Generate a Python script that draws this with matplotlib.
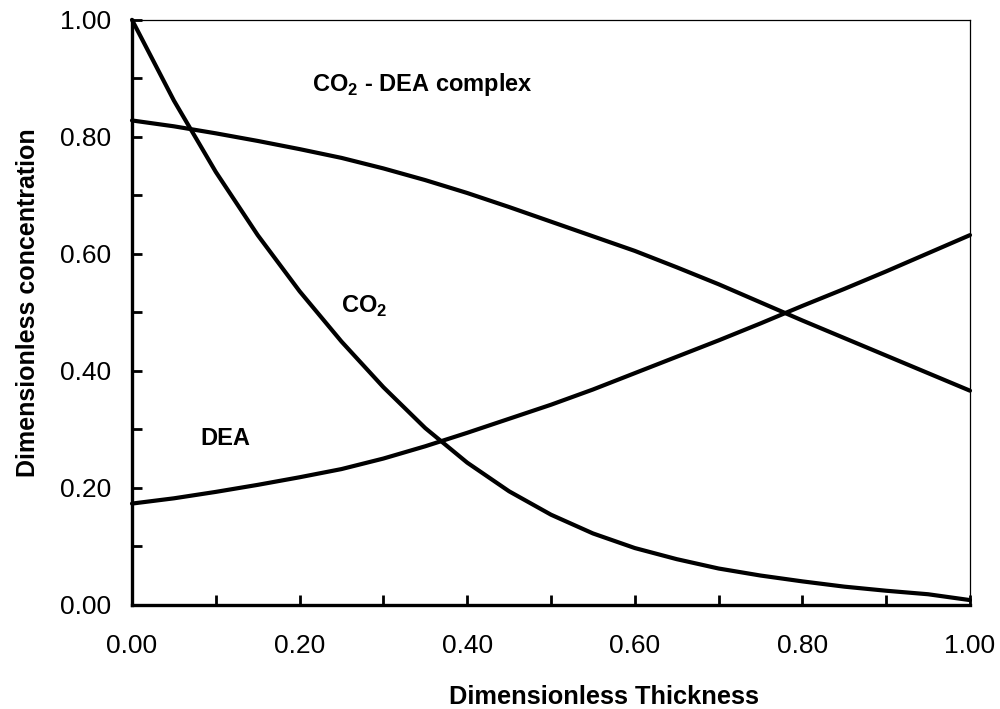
import matplotlib
matplotlib.use('Agg')
import matplotlib.pyplot as plt
from matplotlib.ticker import MultipleLocator, FormatStrFormatter

plt.rcParams['font.family'] = ['Liberation Sans', 'DejaVu Sans']
plt.rcParams['mathtext.fontset'] = 'custom'
plt.rcParams['mathtext.rm'] = 'Liberation Sans'
plt.rcParams['mathtext.bf'] = 'Liberation Sans:bold'

# dimensionless thickness
thickness = [0.00, 0.05, 0.10, 0.15, 0.20, 0.25, 0.30, 0.35, 0.40, 0.45, 0.50,
             0.55, 0.60, 0.65, 0.70, 0.75, 0.80, 0.85, 0.90, 0.95, 1.00]

# concentration profiles
co2 = [1.000, 0.862, 0.740, 0.632, 0.536, 0.450, 0.372, 0.302, 0.243, 0.194, 0.154,
       0.122, 0.097, 0.078, 0.062, 0.050, 0.040, 0.031, 0.024, 0.018, 0.008]
complex_ = [0.828, 0.818, 0.806, 0.793, 0.779, 0.764, 0.746, 0.726, 0.704, 0.680, 0.655,
            0.630, 0.605, 0.577, 0.548, 0.517, 0.486, 0.456, 0.426, 0.396, 0.366]
dea = [0.173, 0.182, 0.193, 0.205, 0.218, 0.232, 0.250, 0.271, 0.294, 0.318, 0.342,
       0.368, 0.396, 0.424, 0.452, 0.481, 0.511, 0.540, 0.570, 0.601, 0.632]

fig = plt.figure(figsize=(10, 7.09), dpi=100)
ax = fig.add_axes([0.132, 0.147, 0.838, 0.825])

for y in (co2, complex_, dea):
    ax.plot(thickness, y, color='black', lw=3, solid_capstyle='round',
            solid_joinstyle='round', clip_on=False)

ax.set_xlim(0, 1)
ax.set_ylim(0, 1)
ax.xaxis.set_major_locator(MultipleLocator(0.2))
ax.xaxis.set_minor_locator(MultipleLocator(0.1))
ax.yaxis.set_major_locator(MultipleLocator(0.2))
ax.yaxis.set_minor_locator(MultipleLocator(0.1))
ax.xaxis.set_major_formatter(FormatStrFormatter('%.2f'))
ax.yaxis.set_major_formatter(FormatStrFormatter('%.2f'))

ax.tick_params(which='both', direction='in', length=7, width=2, labelsize=19)
ax.tick_params(axis='x', which='major', pad=21)
ax.tick_params(axis='y', which='major', pad=15)
ax.tick_params(top=False, right=False, which='both')

ax.spines['left'].set_linewidth(2.4)
ax.spines['bottom'].set_linewidth(2.4)
ax.spines['top'].set_linewidth(0.9)
ax.spines['right'].set_linewidth(0.9)

ax.set_xlabel('Dimensionless Thickness', fontsize=18.3, fontweight='bold', va='center')
ax.set_ylabel('Dimensionless concentration', fontsize=18, fontweight='bold', va='center')
ax.xaxis.set_label_coords(0.563, -0.157)
ax.yaxis.set_label_coords(-0.124, 0.516)

ax.text(0.215, 0.89, r'CO$_\mathbf{2}$ - DEA complex', fontsize=17, fontweight='bold',
        va='center', ha='left')
ax.text(0.249, 0.51, r'CO$_\mathbf{2}$', fontsize=17, fontweight='bold', va='center', ha='left')
ax.text(0.081, 0.284, 'DEA', fontsize=17, fontweight='bold', va='center', ha='left')

fig.savefig('out.png', dpi=100)
